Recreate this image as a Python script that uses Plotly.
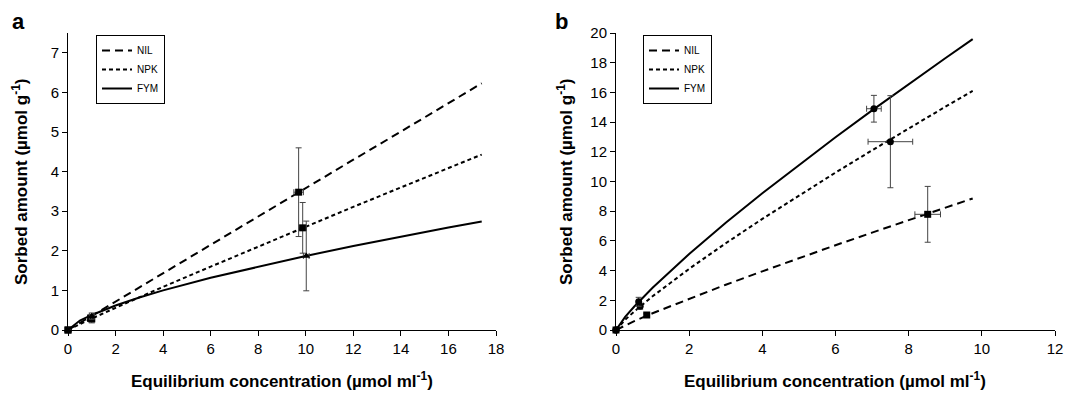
import plotly.graph_objects as go

W, H = 1067, 401

# ---------------- Panel a data ----------------
a_curve_x = [0, 0.5, 1, 2, 3, 4, 6, 8, 10, 12, 14, 16, 17.4]
a_nil_curve = [0, 0.18, 0.36, 0.72, 1.07, 1.43, 2.15, 2.86, 3.58, 4.30, 5.01, 5.73, 6.23]
a_npk_curve = [0, 0.15, 0.29, 0.56, 0.83, 1.09, 1.60, 2.11, 2.62, 3.11, 3.60, 4.09, 4.43]
a_fym_curve = [0, 0.24, 0.38, 0.62, 0.82, 1.00, 1.32, 1.60, 1.87, 2.12, 2.36, 2.59, 2.74]

a_nil_x = [0, 0.95, 9.70]
a_nil_y = [0, 0.30, 3.48]
a_nil_ex = [0, 0.08, 0.20]
a_nil_ey = [0, 0.08, 1.12]

a_npk_x = [0, 1.00, 9.87]
a_npk_y = [0, 0.28, 2.58]
a_npk_ex = [0, 0.10, 0.15]
a_npk_ey = [0, 0.10, 0.64]

a_fym_x = [0, 1.00, 10.02]
a_fym_y = [0, 0.35, 1.87]
a_fym_ex = [0, 0.10, 0.12]
a_fym_ey = [0, 0.08, 0.88]

# ---------------- Panel b data ----------------
b_curve_x = [0, 0.25, 0.5, 1, 2, 3, 4, 5, 6, 7, 8, 9, 9.75]
b_nil_curve = [0, 0.32, 0.60, 1.13, 2.11, 3.05, 3.95, 4.84, 5.71, 6.56, 7.41, 8.24, 8.86]
b_npk_curve = [0, 0.69, 1.25, 2.27, 4.12, 5.84, 7.48, 9.06, 10.60, 12.10, 13.58, 15.03, 16.10]
b_fym_curve = [0, 0.88, 1.58, 2.85, 5.12, 7.22, 9.21, 11.12, 12.98, 14.79, 16.56, 18.30, 19.59]

b_nil_x = [0, 0.84, 8.52]
b_nil_y = [0, 1.01, 7.79]
b_nil_ex = [0, 0.05, 0.35]
b_nil_ey = [0, 0.10, 1.88]

b_npk_x = [0, 0.66, 7.50]
b_npk_y = [0, 1.60, 12.68]
b_npk_ex = [0, 0.05, 0.61]
b_npk_ey = [0, 0.20, 3.10]

b_fym_x = [0, 0.62, 7.05]
b_fym_y = [0, 1.90, 14.90]
b_fym_ex = [0, 0.05, 0.20]
b_fym_ey = [0, 0.30, 0.90]

series_names = ["NIL", "NPK", "FYM"]
a_x_ticks = [0, 2, 4, 6, 8, 10, 12, 14, 16, 18]
a_y_ticks = [0, 1, 2, 3, 4, 5, 6, 7]
b_x_ticks = [0, 2, 4, 6, 8, 10, 12]
b_y_ticks = [0, 2, 4, 6, 8, 10, 12, 14, 16, 18, 20]

dashes = {"NIL": "8px,5px", "NPK": "4px,3px", "FYM": "solid"}
symbols_a = {"NIL": "square", "NPK": "square", "FYM": "triangle-up"}
symbols_b = {"NIL": "square", "NPK": "circle", "FYM": "circle"}

fig = go.Figure()

def add_panel(xa, ya, legend, curve_x, curves, pts, symbols):
    for name, cy in zip(series_names, curves):
        fig.add_trace(go.Scatter(
            x=curve_x, y=cy, mode="lines", name=name,
            line=dict(color="black", width=2, dash=dashes[name]),
            xaxis=xa, yaxis=ya, legend=legend, showlegend=True,
        ))
    for name, (px_, py_, ex, ey) in zip(series_names, pts):
        fig.add_trace(go.Scatter(
            x=px_, y=py_, mode="markers", showlegend=False,
            marker=dict(symbol=symbols[name], size=7, color="black"),
            error_x=dict(type="data", array=ex, color="#444", thickness=1, width=3),
            error_y=dict(type="data", array=ey, color="#444", thickness=1, width=3),
            xaxis=xa, yaxis=ya, cliponaxis=False,
        ))

add_panel("x", "y", "legend",
          a_curve_x, [a_nil_curve, a_npk_curve, a_fym_curve],
          [(a_nil_x, a_nil_y, a_nil_ex, a_nil_ey),
           (a_npk_x, a_npk_y, a_npk_ex, a_npk_ey),
           (a_fym_x, a_fym_y, a_fym_ex, a_fym_ey)], symbols_a)
add_panel("x2", "y2", "legend2",
          b_curve_x, [b_nil_curve, b_npk_curve, b_fym_curve],
          [(b_nil_x, b_nil_y, b_nil_ex, b_nil_ey),
           (b_npk_x, b_npk_y, b_npk_ex, b_npk_ey),
           (b_fym_x, b_fym_y, b_fym_ex, b_fym_ey)], symbols_b)

ML, MR, MT, MB = 40, 10, 20, 50
PW = W - ML - MR
PH = H - MT - MB

def px(x):
    return (x - ML) / PW

def py(y):
    return 1 - (y - MT) / PH

y_dom = [py(330), py(33)]
axis_common = dict(showline=True, linecolor="black", linewidth=1, ticks="outside",
                   ticklen=5, tickcolor="black", showgrid=False, zeroline=False,
                   automargin=False,
                   tickfont=dict(family="Liberation Sans, Arial", size=15, color="black"))

legend_common = dict(bgcolor="white", bordercolor="black", borderwidth=1,
                     font=dict(family="Liberation Sans, Arial", size=10, color="black"),
                     xanchor="left", yanchor="top", tracegroupgap=0, itemwidth=30)

fig.update_layout(
    width=W, height=H, margin=dict(l=ML, r=MR, t=MT, b=MB, autoexpand=False),
    plot_bgcolor="white", paper_bgcolor="white",
    xaxis=dict(domain=[px(68), px(496)], range=[0, 18], tickvals=a_x_ticks, anchor="y", **axis_common),
    yaxis=dict(domain=y_dom, range=[0, 7.5], tickvals=a_y_ticks, anchor="x", **axis_common),
    xaxis2=dict(domain=[px(616), px(1055)], range=[0, 12], tickvals=b_x_ticks, anchor="y2", **axis_common),
    yaxis2=dict(domain=y_dom, range=[0, 20], tickvals=b_y_ticks, anchor="x2", **axis_common),
    legend=dict(x=px(96), y=py(35), **legend_common),
    legend2=dict(x=px(643), y=py(35), **legend_common),
)

title_font = dict(family="Liberation Sans, Arial", size=17, color="black")
ann = [
    dict(text="<b>a</b>", x=px(18), y=py(22), font=dict(family="Liberation Sans, Arial", size=22, color="black")),
    dict(text="<b>b</b>", x=px(561), y=py(22), font=dict(family="Liberation Sans, Arial", size=22, color="black")),
    dict(text="<b>Equilibrium concentration (µmol ml<sup>-1</sup>)</b>", x=px(282), y=py(380), font=title_font),
    dict(text="<b>Equilibrium concentration (µmol ml<sup>-1</sup>)</b>", x=px(835), y=py(380), font=title_font),
    dict(text="<b>Sorbed amount (µmol g<sup>-1</sup>)</b>", x=px(20), y=py(182), textangle=-90, font=title_font),
    dict(text="<b>Sorbed amount (µmol g<sup>-1</sup>)</b>", x=px(565), y=py(182), textangle=-90, font=title_font),
]
for a in ann:
    fig.add_annotation(xref="paper", yref="paper", showarrow=False,
                       xanchor="center", yanchor="middle", **a)

fig.write_html("out.html", config={"displayModeBar": False},
               post_script="document.body.style.margin='0px';")
